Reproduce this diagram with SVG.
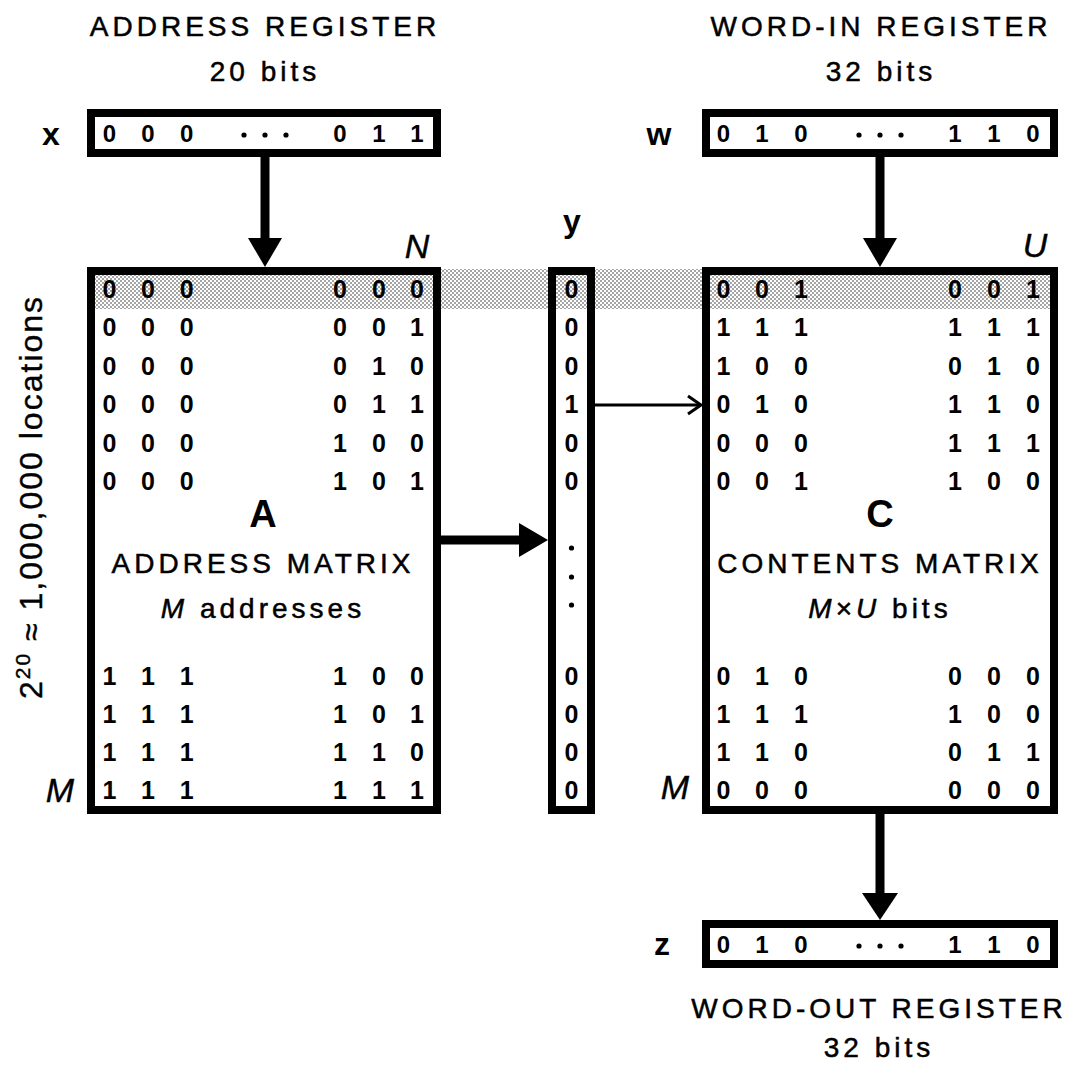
<svg xmlns="http://www.w3.org/2000/svg" width="1072" height="1072" viewBox="0 0 1072 1072">
<defs>
<pattern id="dots" width="4" height="4" patternUnits="userSpaceOnUse">
<rect width="4" height="4" fill="#fff"/>
<circle cx="1" cy="1" r="0.8" fill="#333"/>
<circle cx="3" cy="3" r="0.8" fill="#333"/>
</pattern>
</defs>
<style>
text{font-family:"Liberation Sans",Arial,sans-serif;fill:#000}
.hdr{font-size:28px;letter-spacing:4px;text-anchor:middle;stroke:#000;stroke-width:0.5}
.lbl{font-size:32px;font-weight:bold;text-anchor:middle}
.big{font-size:38px;font-weight:bold;text-anchor:middle}
.it{font-size:34px;font-style:italic;text-anchor:middle;stroke:#000;stroke-width:0.4}
.d{font-size:25px;font-weight:bold;text-anchor:middle}
.r{font-size:24px;font-weight:bold;text-anchor:middle}
.box{fill:none;stroke:#000;stroke-width:8}
.shaft{stroke:#000;stroke-width:9;fill:none}
.thin{stroke:#000;stroke-width:3;fill:none}
.head{fill:#000}
</style>
<rect width="1072" height="1072" fill="#fff"/>
<rect x="87" y="269" width="971" height="40" fill="url(#dots)"/>

<g id="address-register">
<text class="hdr" x="265" y="36">ADDRESS REGISTER</text>
<text class="hdr" x="265" y="81">20 bits</text>
<text class="lbl" x="51" y="145">x</text>
<rect class="box" x="91" y="113" width="346" height="40"/>
<text class="r" y="142"><tspan x="109.5">0</tspan><tspan x="148">0</tspan><tspan x="186.6">0</tspan><tspan x="340">0</tspan><tspan x="379">1</tspan><tspan x="417">1</tspan></text>
<circle cx="244" cy="135" r="2.6"/><circle cx="265" cy="135" r="2.6"/><circle cx="286" cy="135" r="2.6"/>
</g>

<g id="word-in-register">
<text class="hdr" x="881" y="36">WORD-IN REGISTER</text>
<text class="hdr" x="881" y="81">32 bits</text>
<text class="lbl" x="659" y="145">w</text>
<rect class="box" x="706" y="113" width="348" height="40"/>
<text class="r" y="142"><tspan x="723.5">0</tspan><tspan x="762">1</tspan><tspan x="801">0</tspan><tspan x="955">1</tspan><tspan x="994">1</tspan><tspan x="1033">0</tspan></text>
<circle cx="859" cy="135" r="2.6"/><circle cx="880" cy="135" r="2.6"/><circle cx="901" cy="135" r="2.6"/>
</g>

<g id="address-matrix">
<text class="it" x="417" y="258">N</text>
<rect class="box" x="91" y="271" width="346" height="539"/>
<text class="d" y="298"><tspan x="109.5">0</tspan><tspan x="148">0</tspan><tspan x="186.6">0</tspan><tspan x="340">0</tspan><tspan x="379">0</tspan><tspan x="417">0</tspan></text>
<text class="d" y="336"><tspan x="109.5">0</tspan><tspan x="148">0</tspan><tspan x="186.6">0</tspan><tspan x="340">0</tspan><tspan x="379">0</tspan><tspan x="417">1</tspan></text>
<text class="d" y="375"><tspan x="109.5">0</tspan><tspan x="148">0</tspan><tspan x="186.6">0</tspan><tspan x="340">0</tspan><tspan x="379">1</tspan><tspan x="417">0</tspan></text>
<text class="d" y="413"><tspan x="109.5">0</tspan><tspan x="148">0</tspan><tspan x="186.6">0</tspan><tspan x="340">0</tspan><tspan x="379">1</tspan><tspan x="417">1</tspan></text>
<text class="d" y="452"><tspan x="109.5">0</tspan><tspan x="148">0</tspan><tspan x="186.6">0</tspan><tspan x="340">1</tspan><tspan x="379">0</tspan><tspan x="417">0</tspan></text>
<text class="d" y="490"><tspan x="109.5">0</tspan><tspan x="148">0</tspan><tspan x="186.6">0</tspan><tspan x="340">1</tspan><tspan x="379">0</tspan><tspan x="417">1</tspan></text>
<text class="big" x="263" y="527">A</text>
<text class="hdr" x="263" y="573">ADDRESS MATRIX</text>
<text class="hdr" x="263" y="618"><tspan font-style="italic">M</tspan> addresses</text>
<text class="d" y="685"><tspan x="109.5">1</tspan><tspan x="148">1</tspan><tspan x="186.6">1</tspan><tspan x="340">1</tspan><tspan x="379">0</tspan><tspan x="417">0</tspan></text>
<text class="d" y="723"><tspan x="109.5">1</tspan><tspan x="148">1</tspan><tspan x="186.6">1</tspan><tspan x="340">1</tspan><tspan x="379">0</tspan><tspan x="417">1</tspan></text>
<text class="d" y="761"><tspan x="109.5">1</tspan><tspan x="148">1</tspan><tspan x="186.6">1</tspan><tspan x="340">1</tspan><tspan x="379">1</tspan><tspan x="417">0</tspan></text>
<text class="d" y="799"><tspan x="109.5">1</tspan><tspan x="148">1</tspan><tspan x="186.6">1</tspan><tspan x="340">1</tspan><tspan x="379">1</tspan><tspan x="417">1</tspan></text>
<text class="it" x="60" y="802">M</text>
<text x="0" y="0" transform="translate(42,497) rotate(-90)" style="font-size:32px;letter-spacing:2px;text-anchor:middle;stroke:#000;stroke-width:0.4">2<tspan dy="-12" font-size="21">20</tspan><tspan dy="12"> ≈ 1,000,000 locations</tspan></text>
</g>

<g id="y-vector">
<text class="lbl" x="572" y="232">y</text>
<rect class="box" x="552" y="271" width="39" height="539"/>
<text class="d" x="571.5" y="298">0</text>
<text class="d" x="571.5" y="336">0</text>
<text class="d" x="571.5" y="375">0</text>
<text class="d" x="571.5" y="413">1</text>
<text class="d" x="571.5" y="452">0</text>
<text class="d" x="571.5" y="490">0</text>
<circle cx="571.5" cy="548" r="2.6"/><circle cx="571.5" cy="577" r="2.6"/><circle cx="571.5" cy="605" r="2.6"/>
<text class="d" x="571.5" y="685">0</text>
<text class="d" x="571.5" y="723">0</text>
<text class="d" x="571.5" y="761">0</text>
<text class="d" x="571.5" y="799">0</text>
</g>

<g id="contents-matrix">
<text class="it" x="1035" y="257">U</text>
<rect class="box" x="706" y="271" width="348" height="539"/>
<text class="d" y="298"><tspan x="723.5">0</tspan><tspan x="762">0</tspan><tspan x="801">1</tspan><tspan x="955">0</tspan><tspan x="994">0</tspan><tspan x="1033">1</tspan></text>
<text class="d" y="336"><tspan x="723.5">1</tspan><tspan x="762">1</tspan><tspan x="801">1</tspan><tspan x="955">1</tspan><tspan x="994">1</tspan><tspan x="1033">1</tspan></text>
<text class="d" y="375"><tspan x="723.5">1</tspan><tspan x="762">0</tspan><tspan x="801">0</tspan><tspan x="955">0</tspan><tspan x="994">1</tspan><tspan x="1033">0</tspan></text>
<text class="d" y="413"><tspan x="723.5">0</tspan><tspan x="762">1</tspan><tspan x="801">0</tspan><tspan x="955">1</tspan><tspan x="994">1</tspan><tspan x="1033">0</tspan></text>
<text class="d" y="452"><tspan x="723.5">0</tspan><tspan x="762">0</tspan><tspan x="801">0</tspan><tspan x="955">1</tspan><tspan x="994">1</tspan><tspan x="1033">1</tspan></text>
<text class="d" y="490"><tspan x="723.5">0</tspan><tspan x="762">0</tspan><tspan x="801">1</tspan><tspan x="955">1</tspan><tspan x="994">0</tspan><tspan x="1033">0</tspan></text>
<text class="big" x="880" y="527">C</text>
<text class="hdr" x="880" y="573">CONTENTS MATRIX</text>
<text class="hdr" x="880" y="618"><tspan font-style="italic">M</tspan>×<tspan font-style="italic">U</tspan> bits</text>
<text class="d" y="685"><tspan x="723.5">0</tspan><tspan x="762">1</tspan><tspan x="801">0</tspan><tspan x="955">0</tspan><tspan x="994">0</tspan><tspan x="1033">0</tspan></text>
<text class="d" y="723"><tspan x="723.5">1</tspan><tspan x="762">1</tspan><tspan x="801">1</tspan><tspan x="955">1</tspan><tspan x="994">0</tspan><tspan x="1033">0</tspan></text>
<text class="d" y="761"><tspan x="723.5">1</tspan><tspan x="762">1</tspan><tspan x="801">0</tspan><tspan x="955">0</tspan><tspan x="994">1</tspan><tspan x="1033">1</tspan></text>
<text class="d" y="799"><tspan x="723.5">0</tspan><tspan x="762">0</tspan><tspan x="801">0</tspan><tspan x="955">0</tspan><tspan x="994">0</tspan><tspan x="1033">0</tspan></text>
<text class="it" x="675" y="799">M</text>
</g>

<g id="word-out-register">
<text class="lbl" x="662" y="955">z</text>
<rect class="box" x="706" y="924" width="348" height="40"/>
<text class="r" y="953"><tspan x="723.5">0</tspan><tspan x="762">1</tspan><tspan x="801">0</tspan><tspan x="955">1</tspan><tspan x="994">1</tspan><tspan x="1033">0</tspan></text>
<circle cx="859" cy="946" r="2.6"/><circle cx="880" cy="946" r="2.6"/><circle cx="901" cy="946" r="2.6"/>
<text class="hdr" x="879" y="1018">WORD-OUT REGISTER</text>
<text class="hdr" x="879" y="1057">32 bits</text>
</g>

<g id="connectors">
<line class="shaft" x1="265" y1="157" x2="265" y2="240"/>
<polygon class="head" points="248,238 282,238 265,267"/>
<line class="shaft" x1="880" y1="157" x2="880" y2="240"/>
<polygon class="head" points="863,238 897,238 880,267"/>
<line class="shaft" x1="441" y1="540" x2="521" y2="540"/>
<polygon class="head" points="519,523 519,557 548,540"/>
<line class="thin" x1="595" y1="405" x2="701" y2="405"/>
<polyline class="thin" points="688,396 701,405 688,414"/>
<line class="shaft" x1="880" y1="814" x2="880" y2="895"/>
<polygon class="head" points="862,893 898,893 880,920"/>
</g>
</svg>
